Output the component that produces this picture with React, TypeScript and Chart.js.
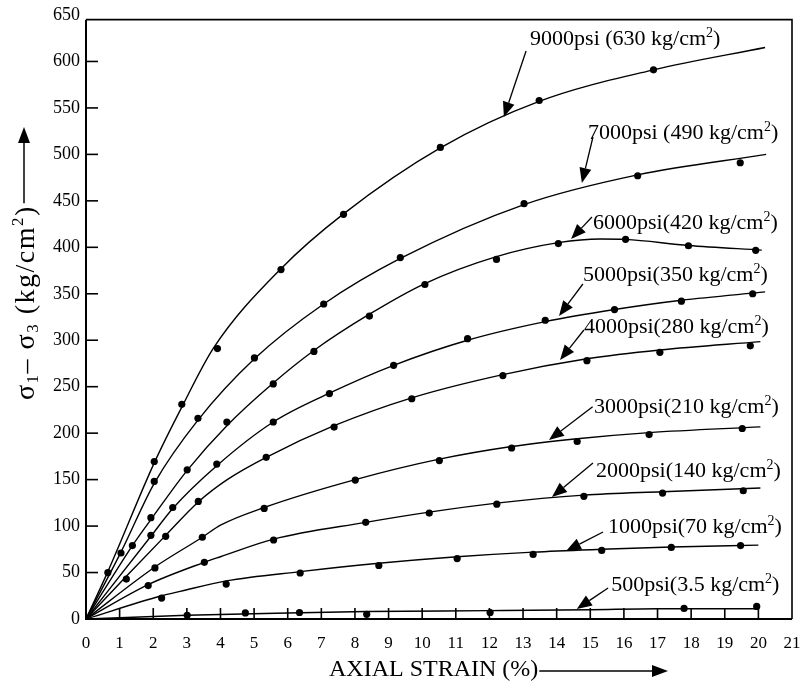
import React, { useEffect, useRef } from "react";
import { Chart, registerables } from "chart.js";

Chart.register(...registerables);

const FONT = '"Liberation Serif", "Times New Roman", Times, serif';

// tick labels
const xTickValues = [0, 1, 2, 3, 4, 5, 6, 7, 8, 9, 10, 11, 12, 13, 14, 15, 16, 17, 18, 19, 20, 21];
const yTickValues = [0, 50, 100, 150, 200, 250, 300, 350, 400, 450, 500, 550, 600, 650];

// confining pressures (labels)
const pressures = ["9000", "7000", "6000", "5000", "4000", "3000", "2000", "1000", "500"];

// measured points [axial strain %, deviator stress kg/cm2]
const pts9000 = [[0.65, 50], [2.03, 169.5], [2.85, 231], [3.91, 291], [5.8, 376], [7.66, 435.5], [10.54, 507.5], [13.48, 558], [16.88, 591]];
const pts7000 = [[1.04, 71], [2.03, 148], [3.33, 216], [5.01, 281], [7.07, 339], [9.35, 389], [13.03, 447], [16.41, 477], [19.46, 491]];
const pts6000 = [[1.38, 79], [1.93, 109], [3.01, 160.5], [4.19, 212], [5.57, 253], [6.78, 288], [8.43, 326], [10.08, 360], [12.21, 387], [14.05, 404], [16.05, 408.6], [17.92, 401.7], [19.92, 396.8]];
const pts5000 = [[1.93, 90], [2.58, 120], [3.89, 166.7], [5.57, 212], [7.24, 242.6], [9.15, 273], [11.35, 301.7], [13.66, 321.5], [15.72, 333], [17.71, 342], [19.83, 350]];
const pts4000 = [[1.2, 43], [2.37, 89], [3.34, 126.5], [5.36, 174], [7.38, 206.5], [9.69, 237], [12.4, 262], [14.9, 278], [17.07, 287], [19.76, 294]];
const pts3000 = [[2.05, 55], [3.46, 88], [5.3, 119], [8.01, 149.5], [10.51, 170.5], [12.66, 184], [14.61, 191], [16.75, 198.5], [19.52, 205]];
const pts2000 = [[1.85, 36], [3.52, 61], [5.58, 85], [8.32, 104], [10.21, 114], [12.22, 123.6], [14.81, 132], [17.15, 135.5], [19.55, 138]];
const pts1000 = [[2.25, 22.5], [4.17, 37.6], [6.37, 49.5], [8.71, 57.6], [11.04, 65], [13.3, 69.5], [15.34, 73.8], [17.41, 77], [19.47, 79]];
const pts500 = [[3.01, 4], [4.74, 6.5], [6.35, 7], [8.35, 5], [12.02, 7], [17.79, 11.4], [19.95, 13.5]];

// fitted curves
const curve9000 = [[0, 0], [0.65, 51], [2.03, 168], [2.85, 228], [3.8, 292], [5.8, 377], [7.66, 436], [10.54, 507], [13.48, 557], [16.88, 591], [20.2, 615]];
const curve7000 = [[0, 0], [1.04, 72], [2.03, 146], [3.33, 214], [5.01, 280], [7.07, 339], [9.35, 388], [13.03, 446], [16.41, 478], [20.23, 500]];
const curve6000 = [[0, 0], [1.38, 79], [1.93, 107], [3.01, 160], [4.19, 208], [5.57, 254], [6.78, 289], [8.43, 328], [10.08, 361], [12.21, 390], [14.05, 405], [15.3, 409], [16.05, 408.5], [17.92, 402], [20.1, 397]];
const curve5000 = [[0, 0], [1.93, 89], [2.58, 119], [3.89, 165], [5.57, 212], [7.24, 243], [9.15, 273], [11.35, 300], [13.66, 320], [15.72, 333], [17.71, 343], [20.2, 352]];
const curve4000 = [[0, 0], [1.2, 46], [2.37, 90], [3.34, 126], [4.2, 150], [5.36, 174], [7.38, 208], [9.69, 238], [12.4, 263], [14.9, 280], [17.07, 289.5], [20.06, 298.5]];
const curve3000 = [[0, 0], [2.05, 56], [3.46, 88], [4.0, 101], [5.3, 120], [8.01, 150], [10.51, 172], [12.66, 185.6], [14.61, 194], [16.75, 200.6], [20.06, 206.8]];
const curve2000 = [[0, 0], [1.85, 37], [3.52, 61], [4.0, 67], [5.58, 86], [8.32, 104], [10.21, 115], [12.22, 124.7], [14.81, 133.3], [17.15, 137], [20.06, 141]];
const curve1000 = [[0, 0], [2.25, 25], [2.8, 29.7], [4.17, 41], [6.37, 51], [8.71, 60], [11.04, 67], [13.3, 72], [15.34, 75], [17.41, 77.5], [20.0, 79.5]];
const curve500 = [[0, 0], [3, 4], [6, 6.5], [8.35, 8], [12, 9], [15, 10], [17, 11], [20, 11]];

const pointSets = [pts9000, pts7000, pts6000, pts5000, pts4000, pts3000, pts2000, pts1000, pts500];
const curveSets = [curve9000, curve7000, curve6000, curve5000, curve4000, curve3000, curve2000, curve1000, curve500];

// callout labels: text, label anchor, arrow tail and arrow tip (data coordinates)
const calloutText = [
  "9000psi (630 kg/cm",
  "7000psi (490 kg/cm",
  "6000psi(420 kg/cm",
  "5000psi(350 kg/cm",
  "4000psi(280 kg/cm",
  "3000psi(210 kg/cm",
  "2000psi(140 kg/cm",
  "1000psi(70 kg/cm",
  "500psi(3.5 kg/cm",
];
const calloutAnchor = [[13.21, 624.2], [14.93, 523.0], [15.08, 426.2], [14.78, 370.2], [14.81, 314.2], [15.11, 228.2], [15.17, 159.3], [15.53, 99], [15.62, 36.6]];
const calloutTail = [[13.09, 611.3], [15.08, 518.7], [15.05, 432.6], [14.78, 360.5], [14.81, 311.0], [15.07, 228.5], [15.08, 167.9], [15.38, 93.6], [15.53, 33.4]];
const calloutTip = [[12.43, 540.3], [14.75, 469.2], [14.43, 408.9], [14.07, 326.1], [14.1, 278.7], [13.77, 192.6], [13.86, 131.3], [14.28, 73.2], [14.6, 10.8]];

const FRAME_TOP = 645;

type Part = { t: string; size: number; dy: number };

function drawParts(ctx: CanvasRenderingContext2D, parts: Part[], x: number, y: number): number {
  let cx = x;
  for (const p of parts) {
    ctx.font = `${p.size}px ${FONT}`;
    ctx.fillText(p.t, cx, y + p.dy);
    cx += ctx.measureText(p.t).width;
  }
  return cx;
}

function arrow(ctx: CanvasRenderingContext2D, x0: number, y0: number, x1: number, y1: number, len: number, half: number) {
  const a = Math.atan2(y1 - y0, x1 - x0);
  const bx = x1 - Math.cos(a) * len;
  const by = y1 - Math.sin(a) * len;
  ctx.beginPath();
  ctx.moveTo(x0, y0);
  ctx.lineTo(bx, by);
  ctx.stroke();
  ctx.beginPath();
  ctx.moveTo(x1, y1);
  ctx.lineTo(bx + Math.sin(a) * half, by - Math.cos(a) * half);
  ctx.lineTo(bx - Math.sin(a) * half, by + Math.cos(a) * half);
  ctx.closePath();
  ctx.fill();
}

const overlay = {
  id: "overlay",
  afterDraw(chart: any) {
    const ctx: CanvasRenderingContext2D = chart.ctx;
    const xs = chart.scales.x;
    const ys = chart.scales.y;
    const left = xs.getPixelForValue(0);
    const right = xs.getPixelForValue(21);
    const bottom = ys.getPixelForValue(0);
    const top = ys.getPixelForValue(FRAME_TOP);
    ctx.save();
    ctx.strokeStyle = "#000";
    ctx.fillStyle = "#000";
    ctx.lineCap = "butt";
    // frame
    ctx.lineWidth = 2;
    ctx.beginPath();
    ctx.moveTo(left, top);
    ctx.lineTo(left, bottom);
    ctx.lineTo(right, bottom);
    ctx.stroke();
    ctx.lineWidth = 1.6;
    ctx.beginPath();
    ctx.moveTo(left, top);
    ctx.lineTo(right, top);
    ctx.lineTo(right, bottom);
    ctx.stroke();
    // inward ticks
    ctx.lineWidth = 1.6;
    for (const v of xTickValues) {
      if (v === 0 || v === 21) continue;
      const px = xs.getPixelForValue(v);
      ctx.beginPath();
      ctx.moveTo(px, bottom);
      ctx.lineTo(px, bottom - 11);
      ctx.stroke();
    }
    for (const v of yTickValues) {
      if (v === 0 || v >= FRAME_TOP) continue;
      const py = ys.getPixelForValue(v);
      ctx.beginPath();
      ctx.moveTo(left, py);
      ctx.lineTo(left + 12, py);
      ctx.stroke();
    }
    // callouts
    ctx.textBaseline = "middle";
    ctx.textAlign = "left";
    ctx.lineWidth = 1.3;
    calloutText.forEach((txt, i) => {
      const lx = xs.getPixelForValue(calloutAnchor[i][0]);
      const ly = ys.getPixelForValue(calloutAnchor[i][1]);
      drawParts(ctx, [
        { t: txt, size: 22, dy: 0 },
        { t: "2", size: 14, dy: -6 },
        { t: ")", size: 22, dy: 0 },
      ], lx, ly);
      arrow(
        ctx,
        xs.getPixelForValue(calloutTail[i][0]),
        ys.getPixelForValue(calloutTail[i][1]),
        xs.getPixelForValue(calloutTip[i][0]),
        ys.getPixelForValue(calloutTip[i][1]),
        15,
        6
      );
    });
    // x axis title
    ctx.lineWidth = 1.5;
    ctx.font = `24px ${FONT}`;
    const xt = "AXIAL STRAIN (%)";
    const xtX = 329;
    const xtY = bottom + 51;
    ctx.fillText(xt, xtX, xtY);
    const xtEnd = xtX + ctx.measureText(xt).width;
    arrow(ctx, xtEnd + 1, xtY + 1, 668, xtY + 1, 16, 6);
    // y axis title (rotated)
    ctx.save();
    ctx.translate(27, 400);
    ctx.rotate(-Math.PI / 2);
    (ctx as any).letterSpacing = "1.5px";
    const end = drawParts(ctx, [
      { t: "σ", size: 28, dy: 0 },
      { t: "1", size: 17, dy: 7 },
      { t: "– ", size: 28, dy: 0 },
      { t: "σ", size: 28, dy: 0 },
      { t: "3", size: 17, dy: 7 },
      { t: " (kg/cm", size: 28, dy: 0 },
      { t: "2", size: 17, dy: -8 },
      { t: ")", size: 28, dy: 0 },
    ], 0, 0);
    (ctx as any).letterSpacing = "0px";
    ctx.restore();
    const yArrowStart = 400 - end - 2;
    arrow(ctx, 24, yArrowStart, 24, 127, 16, 6);
    ctx.restore();
  },
};

export default function App() {
  const ref = useRef<HTMLCanvasElement | null>(null);
  useEffect(() => {
    if (!ref.current) return;
    const datasets: any[] = [];
    pressures.forEach((p, i) => {
      datasets.push({
        label: `${p} psi curve`,
        type: "line",
        data: curveSets[i].map(([x, y]) => ({ x, y })),
        showLine: true,
        borderColor: "#000",
        borderWidth: 1.4,
        pointRadius: 0,
        cubicInterpolationMode: "monotone",
        fill: false,
      });
      datasets.push({
        label: `${p} psi data`,
        type: "scatter",
        data: pointSets[i].map(([x, y]) => ({ x, y })),
        showLine: false,
        pointRadius: 3.6,
        pointBackgroundColor: "#000",
        pointBorderColor: "#000",
        pointBorderWidth: 0,
      });
    });
    const chart = new Chart(ref.current, {
      type: "scatter",
      data: { datasets },
      options: {
        animation: false,
        responsive: false,
        layout: { padding: { top: 15, right: 8, left: 0, bottom: 0 } },
        plugins: { legend: { display: false }, tooltip: { enabled: false } },
        scales: {
          x: {
            type: "linear",
            min: 0,
            max: 21,
            afterBuildTicks: (s: any) => {
              s.ticks = xTickValues.map((v) => ({ value: v }));
            },
            afterFit: (s: any) => {
              s.height = 69;
              s.paddingLeft = 0;
              s.paddingRight = 0;
            },
            grid: { display: false, drawTicks: false },
            border: { display: false },
            ticks: {
              color: "#000",
              font: { family: FONT, size: 17 },
              padding: 14,
              autoSkip: false,
              maxRotation: 0,
            },
          },
          y: {
            type: "linear",
            min: 0,
            max: 650,
            afterBuildTicks: (s: any) => {
              s.ticks = yTickValues.map((v) => ({ value: v }));
            },
            afterFit: (s: any) => {
              s.width = 86;
              s.paddingTop = 0;
              s.paddingBottom = 0;
            },
            grid: { display: false, drawTicks: false },
            border: { display: false },
            ticks: {
              color: "#000",
              font: { family: FONT, size: 18 },
              padding: 6,
            },
          },
        },
      },
      plugins: [overlay],
    });
    return () => chart.destroy();
  }, []);
  return (
    <div style={{ position: "absolute", left: 0, top: 0, width: 800, height: 688, background: "#fff" }}>
      <canvas ref={ref} width={800} height={688} style={{ display: "block" }} />
    </div>
  );
}
